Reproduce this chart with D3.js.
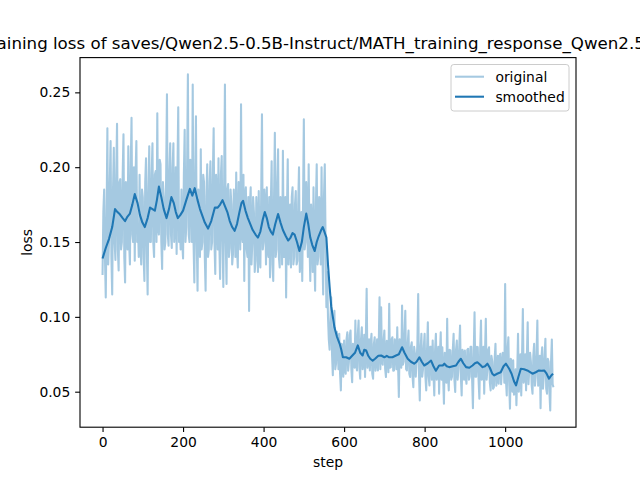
<!DOCTYPE html>
<html><head><meta charset="utf-8">
<script src="https://cdn.jsdelivr.net/npm/d3@7"></script>
<style>body{margin:0;background:#fff}svg{display:block}</style>
</head><body>
<svg id="c" width="640" height="480"></svg>
<script>
const titleText = "training loss of saves/Qwen2.5-0.5B-Instruct/MATH_training_response_Qwen2.5-7B";
const xLabel = "step";
const yLabel = "loss";
const seriesNames = ["original", "smoothed"];
const xTicks = [0, 200, 400, 600, 800, 1000];
const yTicks = [0.05, 0.10, 0.15, 0.20, 0.25];
const stepInterval = 2;
const originalLoss = [
.128,.170,.185,.140,.113,.165,.226,.135,.150,.190,.2175,.140,.115,.185,.213,.150,.138,.195,.229,.145,
.131,.190,.192,.145,.150,.195,.222,.140,.123,.190,.180,.145,.214,.150,.135,.200,.233,.155,.150,.200,
.1375,.195,.2175,.150,.160,.140,.195,.150,.135,.185,.180,.140,.124,.190,.206,.145,.115,.185,.214,.150,
.150,.195,.216,.150,.140,.195,.1975,.150,.236,.160,.155,.205,.202,.150,.132,.190,.180,.145,.150,.195,
.2487,.155,.1475,.195,.216,.155,.146,.200,.216,.150,.160,.200,.142,.195,.240,.150,.160,.145,.185,.150,
.139,.195,.225,.150,.160,.200,.262,.155,.150,.205,.200,.150,.2553,.150,.123,.190,.234,.150,.1175,.185,
.180,.140,.212,.145,.150,.195,.190,.140,.1175,.180,.202,.140,.145,.190,.204,.145,.150,.195,.226,.150,
.1287,.195,.180,.145,.206,.150,.1253,.195,.2075,.150,.120,.190,.2553,.150,.122,.185,.1887,.140,.146,.185,
.175,.135,.142,.185,.170,.140,.1965,.145,.133,.190,.175,.145,.242,.155,.150,.195,.124,.180,.1865,.145,
.140,.180,.104,.175,.1865,.135,.150,.180,.170,.130,.1375,.180,.165,.130,.184,.140,.133,.180,.2353,.145,
.150,.185,.175,.135,.1865,.145,.140,.180,.1264,.175,.204,.135,.124,.180,.223,.140,.145,.190,.212,.140,
.133,.180,.175,.135,.211,.140,.140,.180,.113,.170,.2053,.135,.150,.175,.133,.180,.1865,.135,.140,.175,
.184,.135,.1375,.175,.200,.130,.140,.170,.124,.175,.232,.145,.150,.190,.170,.140,.202,.150,.124,.175,
.160,.130,.1865,.140,.1175,.175,.202,.135,.140,.180,.170,.135,.200,.145,.115,.180,.202,.150,.1064,.130,
.0997,.085,.078,.100,.113,.075,.061,.090,.104,.065,.0687,.090,.085,.065,.0887,.062,.0509,.082,.080,.060,
.0842,.065,.062,.085,.0897,.064,.070,.088,.0909,.065,.0564,.082,.080,.066,.0975,.068,.0642,.088,.0975,.066,
.0587,.085,.093,.065,.070,.088,.0598,.085,.1187,.066,.070,.085,.0642,.082,.0887,.062,.0587,.082,.0864,.064,
.070,.085,.0642,.080,.113,.065,.1064,.070,.068,.084,.0909,.065,.0598,.084,.080,.063,.1087,.066,.0664,.085,
.0864,.064,.0642,.085,.080,.065,.093,.068,.0464,.085,.080,.066,.1075,.068,.070,.088,.104,.065,.0642,.082,
.0909,.062,.0598,.080,.083,.060,.053,.080,.075,.060,.070,.082,.1153,.062,.0442,.078,.0887,.060,.065,.080,
.0887,.060,.0509,.078,.0964,.060,.0542,.080,.080,.058,.0842,.062,.0475,.078,.0887,.058,.065,.080,.0487,.076,
.0897,.058,.0797,.060,.042,.076,.070,.056,.0987,.060,.0509,.078,.0775,.058,.060,.078,.0887,.058,.0498,.078,
.0842,.058,.065,.080,.0942,.060,.0475,.078,.075,.058,.0775,.060,.0553,.078,.0787,.058,.060,.080,.080,.058,
.039,.076,.103,.060,.060,.080,.0797,.058,.0453,.078,.0975,.058,.060,.080,.0487,.076,.0987,.058,.065,.078,
.0797,.056,.0509,.074,.070,.052,.053,.072,.082,.054,.060,.074,.0553,.073,.0753,.055,.065,.076,.075,.056,
.122,.058,.0475,.078,.0864,.056,.0387,.072,.070,.050,.0709,.048,.0487,.065,.0409,.062,.0887,.050,.060,.075,
.0475,.074,.1053,.056,.060,.075,.0509,.074,.0964,.055,.065,.076,.070,.054,.0487,.074,.082,.054,.060,.075,
.0975,.054,.060,.074,.039,.072,.0797,.052,.060,.074,.0853,.052,.0487,.072,.070,.050,.0375,.070,.0849,.055,
.053
];
const smoothSteps = [
0,8,16,24,31,37,43,50,56,62,68,74,80,87,93,99,105,112,118,124,
130,135,140,146,152,159,165,171,177,182,187,193,200,208,217,223,229,236,242,246,
254,262,270,279,286,292,298,304,310,316,322,328,334,340,345,349,355,361,367,373,
380,386,392,398,403,408,413,418,423,429,436,442,448,455,461,467,472,477,483,489,
495,500,506,511,516,521,527,532,537,543,547,551,556,560,564,568,572,576,582,589,
593,597,605,613,620,627,634,640,646,650,655,660,665,671,677,685,692,700,706,712,
720,729,736,744,750,758,766,774,780,787,793,799,808,816,822,828,836,845,849,855,
861,870,878,884,890,896,903,911,919,925,931,938,944,950,956,962,968,973,980,989,
996,1002,1006,1010,1016,1022,1027,1033,1039,1047,1055,1062,1068,1076,1084,1090,1097,1103,1109,1115,
1119
];
const smoothLoss = [
.139,.146,.152,.160,.172,.170,.1685,.166,.164,.167,.169,.175,.182,.176,.168,.163,.160,.166,.173,.172,
.171,.178,.187,.180,.172,.166,.172,.180,.176,.170,.166,.168,.171,.178,.1855,.181,.186,.178,.172,.169,
.163,.159,.164,.173,.173,.175,.178,.174,.170,.164,.160,.1575,.162,.170,.176,.1775,.171,.166,.162,.158,
.155,.153,.157,.165,.170,.166,.160,.157,.155,.162,.1687,.163,.158,.154,.151,.153,.156,.155,.150,.144,
.150,.160,.169,.162,.153,.148,.144,.150,.154,.158,.160,.157,.153,.135,.120,.107,.100,.093,.087,.082,
.078,.073,.073,.072,.074,.076,.0809,.076,.0742,.078,.0775,.074,.072,.0708,.072,.074,.0742,.073,.074,.073,
.073,.0742,.075,.0797,.076,.072,.070,.0687,.070,.073,.070,.0675,.069,.0708,.067,.064,.0675,.0675,.0687,.067,
.0664,.067,.0675,.070,.072,.069,.0664,.066,.0675,.069,.0697,.068,.0664,.067,.0687,.066,.062,.0609,.062,.063,
.067,.0687,.067,.0653,.062,.057,.0542,.060,.0653,.065,.0642,.063,.062,.063,.0642,.064,.0642,.062,.0587,.061,
.062
];

const color = "#1f77b4";
const font = "DejaVu Sans";
const svg = d3.select("#c");
svg.append("rect").attr("width",640).attr("height",480).attr("fill","#fff");
const L = 80, R = 576, T = 57.6, B = 427.2;

const steps = originalLoss.map((_, i) => i * stepInterval);
const xExt = d3.extent(steps.concat(smoothSteps));
const xPad = (xExt[1] - xExt[0]) * 0.05;
const yExt = d3.extent(originalLoss.concat(smoothLoss));
const yPad = (yExt[1] - yExt[0]) * 0.05;
const x = d3.scaleLinear().domain([xExt[0] - xPad, xExt[1] + xPad]).range([L, R]);
const y = d3.scaleLinear().domain([yExt[0] - yPad, yExt[1] + yPad]).range([B, T]);

const lw = 2.08;
const origData = steps.map((s, i) => [s, originalLoss[i]]);
const smoothData = smoothSteps.map((s, i) => [s, smoothLoss[i]]);
const line = d3.line().x(d => x(d[0])).y(d => y(d[1]));

svg.append("path").datum(origData).attr("d", line)
  .attr("fill","none").attr("stroke",color).attr("stroke-opacity",0.4)
  .attr("stroke-width",lw).attr("stroke-linejoin","round");
svg.append("path").datum(smoothData).attr("d", line)
  .attr("fill","none").attr("stroke",color)
  .attr("stroke-width",lw).attr("stroke-linejoin","round");

// axes
const tickLen = 4.86, tickPad = 4.86;
const gx = svg.append("g").attr("transform",`translate(0,${B})`)
  .call(d3.axisBottom(x).tickValues(xTicks).tickFormat(d3.format("d")).tickSize(tickLen).tickPadding(tickPad).tickSizeOuter(0));
const gy = svg.append("g").attr("transform",`translate(${L},0)`)
  .call(d3.axisLeft(y).tickValues(yTicks).tickFormat(d3.format(".2f")).tickSize(tickLen).tickPadding(tickPad).tickSizeOuter(0));
[gx, gy].forEach(g => {
  g.select(".domain").remove();
  g.selectAll(".tick line").attr("stroke","#000").attr("stroke-width",1.1);
  g.selectAll(".tick text").attr("fill","#000").attr("font-family",font).attr("font-size",13.89);
});

svg.append("rect").attr("x",L).attr("y",T).attr("width",R-L).attr("height",B-T)
  .attr("fill","none").attr("stroke","#000").attr("stroke-width",1.1);

svg.append("text").attr("x",(L+R)/2).attr("y",467).attr("text-anchor","middle")
  .attr("font-family",font).attr("font-size",13.89).text(xLabel);
svg.append("text").attr("transform",`translate(31.5,${(T+B)/2}) rotate(-90)`).attr("text-anchor","middle")
  .attr("font-family",font).attr("font-size",13.89).text(yLabel);
svg.append("text").attr("x",(L+R)/2).attr("y",49.3).attr("text-anchor","middle")
  .attr("font-family",font).attr("font-size",16.67).text(titleText);

// legend
const lg = svg.append("g");
lg.append("rect").attr("x",451).attr("y",64.5).attr("width",118).attr("height",46.5)
  .attr("rx",2.8).attr("fill","#fff").attr("fill-opacity",0.8).attr("stroke","#cccccc").attr("stroke-width",1);
seriesNames.forEach((n, i) => {
  const cy = 76.7 + i * 20;
  lg.append("line").attr("x1",455).attr("x2",484).attr("y1",cy).attr("y2",cy)
    .attr("stroke",color).attr("stroke-width",lw).attr("stroke-opacity", i === 0 ? 0.4 : 1);
  lg.append("text").attr("x",495.4).attr("y",cy + 4.8).attr("font-family",font).attr("font-size",13.89).text(n);
});
</script>
</body></html>
